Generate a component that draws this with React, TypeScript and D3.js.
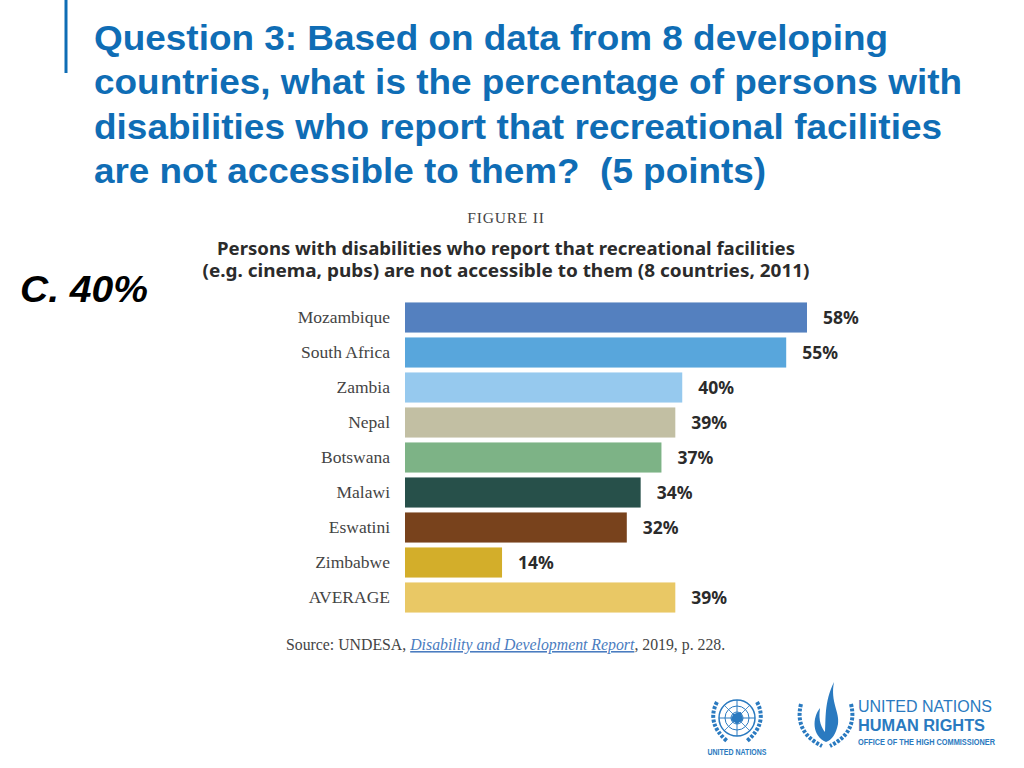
import React from "react";
import * as d3 from "d3";

const countries = ["Mozambique", "South Africa", "Zambia", "Nepal", "Botswana", "Malawi", "Eswatini", "Zimbabwe", "AVERAGE"];
const values = [58, 55, 40, 39, 37, 34, 32, 14, 39];
const colors = ["#5480bf", "#58a6dc", "#96c9ee", "#c2bfa3", "#7db386", "#27504a", "#78421c", "#d3ae2a", "#e9c865"];
const titleLines = [
  "Question 3: Based on data from 8 developing",
  "countries, what is the percentage of persons with",
  "disabilities who report that recreational facilities",
  "are not accessible to them?\u00a0\u00a0(5 points)",
];
const titleWidths = [794, 868, 848, 672];
const chartTitleLines = [
  "Persons with disabilities who report that recreational facilities",
  "(e.g. cinema, pubs) are not accessible to them (8 countries, 2011)",
];

const BLUE = "#0f6db5";

export default function App() {
  const x = d3.scaleLinear().domain([0, 58]).range([405, 807]);
  const y = d3.scaleBand().domain(countries).range([300, 615]).paddingInner(0.14).paddingOuter(0.07);
  const serif = "'Liberation Serif', 'DejaVu Serif', serif";
  const sans = "'Liberation Sans', Arial, sans-serif";
  const bold = "'Noto Sans', 'DejaVu Sans', sans-serif";
  return (
    <svg width={1024} height={768} style={{ position: "absolute", left: 0, top: 0, background: "#fff" }}>
      <rect x={0} y={0} width={1024} height={768} fill="#fff" />
      <line x1={66} x2={66} y1={0} y2={73} stroke={BLUE} strokeWidth={3} />
      {titleLines.map((t, i) => (
        <text key={i} x={94} y={50 + i * 44.3} fill={BLUE} fontFamily={sans} fontWeight="bold" fontSize={35.5}
          textLength={titleWidths[i]} lengthAdjust="spacingAndGlyphs">
          {t}
        </text>
      ))}
      <text x={20} y={302} fontFamily={sans} fontWeight="bold" fontStyle="italic" fontSize={36} fill="#000"
        textLength={128} lengthAdjust="spacingAndGlyphs">
        C. 40%
      </text>
      <text x={506} y={223} textAnchor="middle" fontFamily={serif} fontSize={15.5} fill="#444" letterSpacing={0.8}>
        FIGURE II
      </text>
      {chartTitleLines.map((t, i) => (
        <text key={i} x={506} y={255 + i * 22} textAnchor="middle" fontFamily={bold} fontWeight="bold" fontSize={17} fill="#2b2b2b"
          textLength={i === 0 ? 578 : 607} lengthAdjust="spacingAndGlyphs">
          {t}
        </text>
      ))}
      {countries.map((c, i) => (
        <g key={c}>
          <rect x={x(0)} y={y(c)!} width={x(values[i]) - x(0)} height={y.bandwidth()} fill={colors[i]} />
          <text x={390} y={y(c)! + y.bandwidth() / 2 + 5.5} textAnchor="end" fontFamily={serif} fontSize={17.5} fill="#444">
            {c}
          </text>
          <text x={x(values[i]) + 16} y={y(c)! + y.bandwidth() / 2 + 6} fontFamily={bold} fontWeight="bold" fontSize={17.5} fill="#2b2b2b">
            {values[i]}%
          </text>
        </g>
      ))}
      <text x={286} y={650} fontFamily={serif} fontSize={15.8} fill="#444">
        Source: UNDESA,{" "}
        <tspan fill="#4a7cc0" fontStyle="italic" textDecoration="underline">Disability and Development Report</tspan>
        , 2019, p. 228.
      </text>
      {/* UN emblem */}
      <g transform="translate(737,718)" stroke="#2a7ac0" fill="none">
        <circle r={18} strokeWidth={1.5} />
        <circle r={12} strokeWidth={1} />
        <circle r={6} strokeWidth={1} />
        <line x1={-18} x2={18} y1={0} y2={0} strokeWidth={1} />
        <line x1={0} x2={0} y1={-18} y2={18} strokeWidth={1} />
        <line x1={-13} x2={13} y1={-13} y2={13} strokeWidth={0.8} />
        <line x1={13} x2={-13} y1={-13} y2={13} strokeWidth={0.8} />
        <path d="M-4,-4 L4,-6 L6,2 L0,6 L-6,2 Z" fill="#2a7ac0" stroke="none" />
        <path d="M-20,-16 Q-31,5 -10,23" strokeWidth={4} strokeDasharray="3 1.5" />
        <path d="M20,-16 Q31,5 10,23" strokeWidth={4} strokeDasharray="3 1.5" />
      </g>
      <text x={737} y={755} textAnchor="middle" fontFamily={sans} fontWeight="bold" fontSize={8.5} fill="#2a7ac0"
        textLength={59} lengthAdjust="spacingAndGlyphs">
        UNITED NATIONS
      </text>
      {/* UN Human Rights emblem */}
      <g transform="translate(826,716)" fill="#2a7ac0">
        <path d="M0,26 C-14,20 -14,2 -6,-8 C-8,6 -4,12 -1,16 C0,4 -2,-14 8,-34 C4,-14 14,-4 12,8 C10,18 6,24 0,26 Z" />
        <path d="M-25,-12 Q-32,16 -4,30" stroke="#2a7ac0" strokeWidth={4} fill="none" strokeDasharray="3 1.5" />
        <path d="M25,-12 Q32,16 4,30" stroke="#2a7ac0" strokeWidth={4} fill="none" strokeDasharray="3 1.5" />
      </g>
      <text x={858} y={712} fontFamily={sans} fontSize={16} fill="#2a7ac0" textLength={134} lengthAdjust="spacingAndGlyphs">
        UNITED NATIONS
      </text>
      <text x={858} y={731} fontFamily={sans} fontWeight="bold" fontSize={16} fill="#2a7ac0" textLength={127} lengthAdjust="spacingAndGlyphs">
        HUMAN RIGHTS
      </text>
      <text x={858} y={745} fontFamily={sans} fontWeight="bold" fontSize={8.5} fill="#2a7ac0" textLength={137} lengthAdjust="spacingAndGlyphs">
        OFFICE OF THE HIGH COMMISSIONER
      </text>
    </svg>
  );
}
